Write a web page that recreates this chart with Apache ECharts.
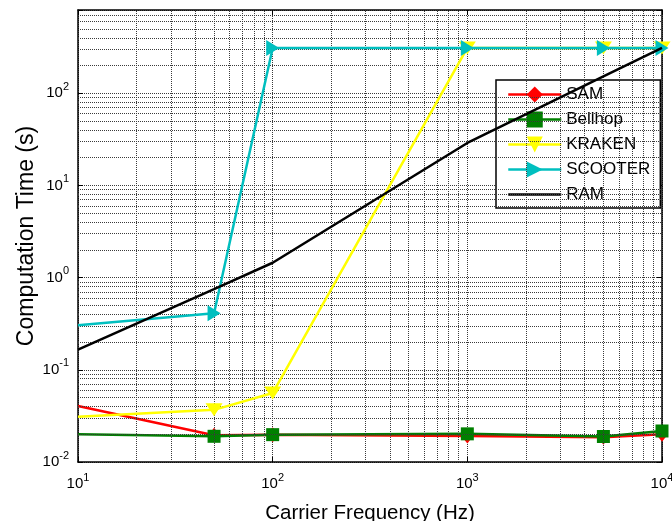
<!DOCTYPE html>
<html>
<head>
<meta charset="utf-8">
<script src="https://cdn.jsdelivr.net/npm/echarts@6/dist/echarts.min.js"></script>
<style>
html,body{margin:0;padding:0;background:#fff;}
#chart{width:672px;height:521px;}
</style>
</head>
<body>
<div id="chart"></div>
<script>
var frequencies = [10, 50, 100, 1000, 5000, 10000];
var samTime     = [0.0405, 0.0195, 0.0197, 0.0191, 0.0185, 0.0200];
var bellhopTime = [0.0200, 0.0190, 0.0198, 0.0202, 0.0189, 0.0217];
var krakenTime  = [0.031, 0.0368, 0.0560, 310, 310, 310];
var scooterTime = [0.305, 0.41, 310, 310, 310, 310];
var ramTime     = [0.166, 0.75, 1.45, 28.9, 152, 310];
var seriesNames = ['SAM', 'Bellhop', 'KRAKEN', 'SCOOTER', 'RAM'];
var xMinorGrid = [20,30,40,50,60,70,80,90,200,300,400,500,600,700,800,900,2000,3000,4000,5000,6000,7000,8000,9000];
var yMinorGrid = [0.02,0.03,0.04,0.05,0.06,0.07,0.08,0.09,0.2,0.3,0.4,0.5,0.6,0.7,0.8,0.9,2,3,4,5,6,7,8,9,20,30,40,50,60,70,80,90,200,300,400,500,600,700];

var FONT = 'Liberation Sans, Arial, Helvetica, sans-serif';

function pairs(vals, noFirstSymbol) {
  return frequencies.map(function (f, i) {
    var item = { value: [f, vals[i]] };
    if (i === 0 && noFirstSymbol) item.symbol = 'none';
    return item;
  });
}

function powLabel(v) {
  var l = Math.log10(v);
  var e = Math.round(l);
  if (Math.abs(l - e) > 1e-6) return '';
  return '{b|10}{e|' + e + '}';
}
var labelRich = {
  b: { fontSize: 15, fontFamily: FONT, color: '#000' },
  e: { fontSize: 11, fontFamily: FONT, color: '#000', padding: [0, 0, 13, 0] }
};

var gridLine = { color: '#3a3a3a', width: 1, type: [1, 1] };

var minorMarks = [];
xMinorGrid.forEach(function (v) { minorMarks.push({ xAxis: v }); });
yMinorGrid.forEach(function (v) { minorMarks.push({ yAxis: v }); });

var axisLine = { show: true, lineStyle: { color: '#000', width: 1.5 } };

var legendData = seriesNames.map(function (n) {
  return n === 'RAM' ? { name: n, itemStyle: { opacity: 0 } } : { name: n };
});

var LW = 2.5;

var option = {
  animation: false,
  backgroundColor: '#fff',
  grid: { left: 78, right: 10, top: 10, bottom: 59, containLabel: false, outerBoundsMode: 'none' },
  legend: {
    orient: 'vertical',
    left: 496, top: 80,
    padding: [6, 10, 5, 11],
    itemGap: 8,
    itemWidth: 53, itemHeight: 20,
    backgroundColor: '#fff',
    borderColor: '#000', borderWidth: 1.5,
    lineStyle: { width: LW },
    textStyle: { fontSize: 17, fontFamily: FONT, color: '#000' },
    data: legendData
  },
  xAxis: [{
    type: 'log', logBase: 10, min: 10, max: 10000, splitNumber: 3,
    name: 'Carrier Frequency (Hz)', nameLocation: 'middle', nameGap: 41,
    nameMoveOverlap: false,
    nameTextStyle: { fontSize: 20.5, fontFamily: FONT, color: '#000' },
    axisLine: axisLine,
    axisTick: { show: true, inside: true, length: 5, lineStyle: { color: '#000' } },
    axisLabel: { formatter: powLabel, rich: labelRich, margin: 10, showMinLabel: true, showMaxLabel: true },
    splitLine: { show: true, lineStyle: gridLine }
  }, {
    type: 'log', logBase: 10, min: 10, max: 10000, splitNumber: 3, position: 'top',
    axisLine: axisLine,
    axisTick: { show: true, inside: true, length: 5, lineStyle: { color: '#000' } },
    axisLabel: { show: false }, splitLine: { show: false }
  }],
  yAxis: [{
    type: 'log', logBase: 10, min: 0.01, max: 800, splitNumber: 5,
    name: 'Computation Time (s)', nameLocation: 'middle', nameGap: 40,
    nameMoveOverlap: false,
    nameTextStyle: { fontSize: 23, fontFamily: FONT, color: '#000' },
    axisLine: axisLine,
    axisTick: { show: true, inside: true, length: 5, lineStyle: { color: '#000' } },
    axisLabel: { formatter: powLabel, rich: labelRich, margin: 9, showMinLabel: true, showMaxLabel: true },
    splitLine: { show: true, lineStyle: gridLine }
  }, {
    type: 'log', logBase: 10, min: 0.01, max: 800, splitNumber: 5, position: 'right',
    axisLine: axisLine,
    axisTick: { show: true, inside: true, length: 5, lineStyle: { color: '#000' } },
    axisLabel: { show: false }, splitLine: { show: false }
  }],
  series: [
    {
      name: 'SAM', type: 'line', data: pairs(samTime, true),
      symbol: 'diamond', symbolSize: [12, 15], showAllSymbol: true,
      lineStyle: { color: '#ff0000', width: LW }, itemStyle: { color: '#ff0000' },
      markLine: {
        silent: true, symbol: 'none', label: { show: false }, animation: false,
        lineStyle: { color: '#3a3a3a', width: 1, type: [1, 1] },
        emphasis: { disabled: true },
        data: minorMarks
      },
      z: 3
    },
    {
      name: 'Bellhop', type: 'line', data: pairs(bellhopTime, true),
      symbol: 'rect', symbolSize: 13, showAllSymbol: true,
      lineStyle: { color: '#008000', width: LW }, itemStyle: { color: '#008000' }, z: 4
    },
    {
      name: 'KRAKEN', type: 'line', data: pairs(krakenTime, true),
      symbol: 'triangle', symbolRotate: 180, symbolSize: [17, 13], showAllSymbol: true,
      lineStyle: { color: '#ffff00', width: LW }, itemStyle: { color: '#ffff00' }, z: 5
    },
    {
      name: 'SCOOTER', type: 'line', data: pairs(scooterTime, true),
      symbol: 'triangle', symbolRotate: -90, symbolSize: [16, 13], showAllSymbol: true,
      lineStyle: { color: '#00bfbf', width: LW }, itemStyle: { color: '#00bfbf' }, z: 6
    },
    {
      name: 'RAM', type: 'line', data: pairs(ramTime, false),
      symbol: 'none', showSymbol: false,
      lineStyle: { color: '#000', width: LW }, itemStyle: { color: '#000' }, z: 7
    }
  ]
};

var chart = echarts.init(document.getElementById('chart'), null, { renderer: 'canvas' });
chart.setOption(option);
</script>
</body>
</html>
